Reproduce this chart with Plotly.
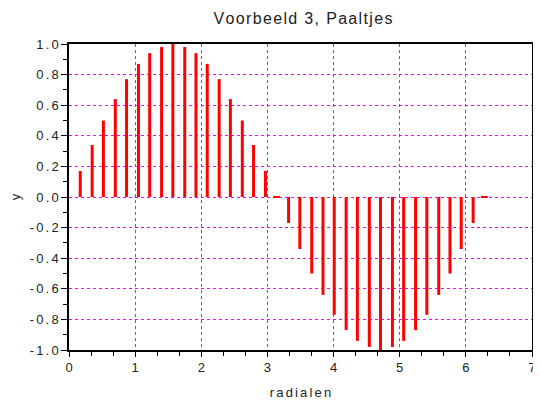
import plotly.graph_objects as go

x_vals = [0.17, 0.35, 0.52, 0.70, 0.87, 1.05, 1.22, 1.40, 1.57, 1.75, 1.92, 2.09,
          2.27, 2.44, 2.62, 2.79, 2.97, 3.14, 3.32, 3.49, 3.67, 3.84, 4.01, 4.19,
          4.36, 4.54, 4.71, 4.89, 5.06, 5.24, 5.41, 5.59, 5.76, 5.93, 6.11, 6.28]
y_vals = [0.17, 0.34, 0.50, 0.64, 0.77, 0.87, 0.94, 0.98, 1.00, 0.98, 0.94, 0.87,
          0.77, 0.64, 0.50, 0.34, 0.17, 0.00, -0.17, -0.34, -0.50, -0.64, -0.77, -0.87,
          -0.94, -0.98, -1.00, -0.98, -0.94, -0.87, -0.77, -0.64, -0.50, -0.34, -0.17, 0.00]
x_ticks = [0, 1, 2, 3, 4, 5, 6, 7]
y_ticks = [-1.0, -0.8, -0.6, -0.4, -0.2, 0.0, 0.2, 0.4, 0.6, 0.8, 1.0]
title_text = "Voorbeeld 3, Paaltjes"
x_title = "radialen"
y_title = "y"


def spaced(s, sep="\u2006"):
    return sep.join(list(s))


sx, sy = [], []
for xv, yv in zip(x_vals, y_vals):
    sx += [xv, xv, None]
    sy += [0, yv, None]

fig = go.Figure()
fig.add_trace(go.Scatter(x=sx, y=sy, mode="lines",
                         line=dict(color="#ff0000", width=3), hoverinfo="skip",
                         showlegend=False))
zx = [xv for xv, yv in zip(x_vals, y_vals) if yv == 0]
zy = [yv for yv in y_vals if yv == 0]
fig.add_trace(go.Scatter(x=zx, y=zy, mode="markers",
                         marker=dict(symbol="line-ew", size=5,
                                     line=dict(color="#ff0000", width=2)),
                         showlegend=False))

# page has an 8px body margin; the figure is sized so that it ends at the window edge
W, H = 533, 392
font = "Liberation Sans, Arial, sans-serif"
grid = dict(showgrid=True, gridcolor="#ff00ff", griddash="dot", gridwidth=1)
fig.update_layout(
    width=W, height=H,
    margin=dict(l=61, r=9, t=36, b=50),
    paper_bgcolor="white", plot_bgcolor="white",
    font=dict(family=font, size=13, color="#222222"),
    title=dict(text=spaced(title_text, "\u200a"),
               x=295 / W, xanchor="center", xref="container",
               y=1 - 10 / H, yanchor="middle", yref="container",
               font=dict(size=16, color="#222222")),
    xaxis=dict(range=[0, 7], tickvals=x_ticks, ticktext=[str(v) for v in x_ticks],
               **grid,
               showline=True, linecolor="black", linewidth=1.5, mirror=True,
               ticks="outside", ticklen=5, tickcolor="black",
               minor=dict(dtick=1 / 3, ticks="outside", ticklen=4, tickcolor="black",
                          showgrid=False, gridcolor="#ff00ff", griddash="dot"),
               zeroline=False, automargin=False,
               title=dict(text=spaced(x_title), standoff=15, font=dict(size=13))),
    yaxis=dict(range=[-1, 1], tickvals=y_ticks, ticktext=[spaced(f"{v:.1f}") for v in y_ticks],
               **grid,
               showline=True, linecolor="black", linewidth=1.5, mirror=True,
               ticks="outside", ticklen=6, tickcolor="black",
               minor=dict(dtick=0.1, ticks="outside", ticklen=4, tickcolor="black",
                          showgrid=False, gridcolor="#ff00ff", griddash="dot"),
               zeroline=False, automargin=False,
               title=dict(text=y_title, standoff=10, font=dict(size=13))),
)
fig.write_html("out.html")
